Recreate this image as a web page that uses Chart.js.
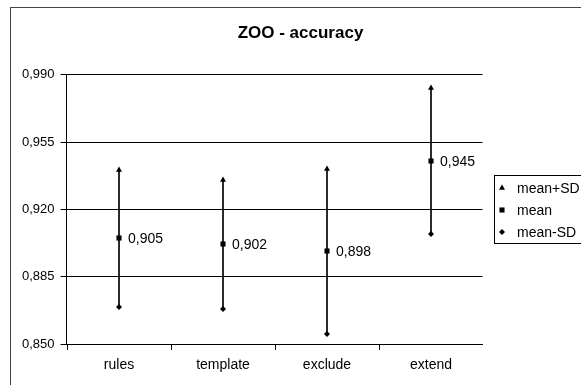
<!DOCTYPE html>
<html>
<head>
<meta charset="utf-8">
<style>
  html, body { margin: 0; padding: 0; background: #fff; }
  #wrap { width: 581px; height: 385px; position: relative; overflow: hidden; }
  canvas { display: block; }
</style>
<script src="https://cdn.jsdelivr.net/npm/chart.js@4/dist/chart.umd.min.js"></script>
</head>
<body>
<div id="wrap"><canvas id="c" width="581" height="385"></canvas></div>
<script>
// Accuracy on the ZOO data set: mean and mean ± standard deviation per method
const categories  = ['rules', 'template', 'exclude', 'extend'];
const meanPlusSD  = [0.940, 0.935, 0.941, 0.983];
const meanValues  = [0.905, 0.902, 0.898, 0.945];
const meanMinusSD = [0.869, 0.868, 0.855, 0.907];
const yTicks      = [0.850, 0.885, 0.920, 0.955, 0.990];
const seriesNames = ['mean+SD', 'mean', 'mean-SD'];

const FONT = '"Liberation Sans", Arial, sans-serif';
const fmt = v => v.toFixed(3).replace('.', ',');

// Outer frame, title, value labels next to the means and boxed legend
const decorations = {
  id: 'decorations',
  beforeDraw(chart) {
    const ctx = chart.ctx;
    ctx.save();
    ctx.fillStyle = '#fff';
    ctx.fillRect(0, 0, chart.width, chart.height);
    ctx.strokeStyle = '#444';
    ctx.lineWidth = 1;
    ctx.strokeRect(10.5, 7.5, 700, 500);
    ctx.restore();
  },
  afterDatasetsDraw(chart) {
    const ctx = chart.ctx;
    ctx.save();
    ctx.fillStyle = '#000';
    ctx.font = '14px ' + FONT;
    ctx.textAlign = 'left';
    ctx.textBaseline = 'middle';
    const meta = chart.getDatasetMeta(2);
    meta.data.forEach((pt, i) => {
      ctx.fillText(fmt(meanValues[i]), pt.x + 9, pt.y + 1);
    });
    ctx.restore();
  },
  afterDraw(chart) {
    const ctx = chart.ctx;
    ctx.save();
    // title
    ctx.fillStyle = '#000';
    ctx.font = 'bold 17px ' + FONT;
    ctx.textAlign = 'center';
    ctx.textBaseline = 'alphabetic';
    ctx.fillText('ZOO - accuracy', 300.5, 38);

    // legend
    ctx.strokeStyle = '#000';
    ctx.lineWidth = 1;
    ctx.strokeRect(494.5, 175.5, 120, 68);
    const styles = [
      { pointStyle: 'triangle', radius: 3.5 },
      { pointStyle: 'rect', radius: 3.6 },
      { pointStyle: 'rectRot', radius: 3 }
    ];
    ctx.font = '14px ' + FONT;
    ctx.textAlign = 'left';
    ctx.textBaseline = 'middle';
    seriesNames.forEach((name, i) => {
      const y = 188 + i * 22;
      ctx.fillStyle = '#000';
      Chart.helpers.drawPoint(ctx, { pointStyle: styles[i].pointStyle, radius: styles[i].radius, rotation: 0, borderWidth: 0 }, 502, y);
      ctx.fillText(name, 517, y + 1);
    });
    ctx.restore();
  }
};

const markerDataset = (label, data, style, radius) => ({
  type: 'line',
  label,
  data,
  showLine: false,
  pointStyle: style,
  pointRadius: radius,
  pointHoverRadius: radius,
  pointBorderWidth: 0,
  pointBackgroundColor: '#000',
  pointBorderColor: '#000',
  order: 1
});

new Chart(document.getElementById('c'), {
  type: 'bar',
  data: {
    labels: categories,
    datasets: [
      {
        type: 'bar',
        label: 'range',
        data: categories.map((_, i) => [meanMinusSD[i], meanPlusSD[i]]),
        backgroundColor: '#000',
        borderWidth: 0,
        barThickness: 1,
        order: 10
      },
      markerDataset(seriesNames[0], meanPlusSD, 'triangle', 3.5),
      markerDataset(seriesNames[1], meanValues, 'rect', 3.6),
      markerDataset(seriesNames[2], meanMinusSD, 'rectRot', 3)
    ]
  },
  options: {
    responsive: false,
    animation: false,
    devicePixelRatio: 1,
    layout: { padding: { left: 0, top: 74, right: 98.5, bottom: 0 } },
    plugins: {
      legend: { display: false },
      title: { display: false },
      tooltip: { enabled: false }
    },
    scales: {
      x: {
        type: 'category',
        offset: true,
        alignToPixels: true,
        grid: { offset: true, drawOnChartArea: false, drawTicks: true, tickLength: 6, color: '#000', lineWidth: 1 },
        border: { display: true, color: '#000', width: 1 },
        ticks: { color: '#000', font: { family: FONT, size: 14 }, padding: 7, maxRotation: 0 },
        afterFit(scale) { scale.height = 41; }
      },
      y: {
        min: 0.85,
        max: 0.99,
        alignToPixels: true,
        afterBuildTicks(scale) { scale.ticks = yTicks.map(v => ({ value: v })); },
        grid: { color: '#000', lineWidth: 1, drawTicks: true, tickLength: 6 },
        border: { display: true, color: '#000', width: 1 },
        ticks: { color: '#000', font: { family: FONT, size: 13 }, padding: 6, callback: v => fmt(v) },
        afterFit(scale) { scale.width = 66.5; }
      }
    }
  },
  plugins: [decorations]
});
</script>
</body>
</html>
